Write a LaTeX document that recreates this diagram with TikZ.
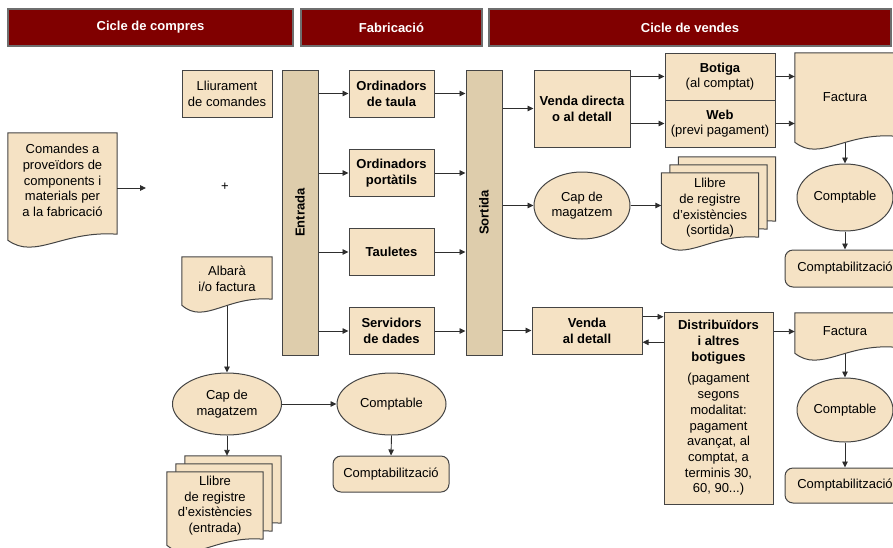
\documentclass[tikz,border=0pt]{standalone}
\usepackage{fontspec}
\setmainfont{Liberation Sans}
\usetikzlibrary{arrows.meta,shapes.geometric,calc}
\definecolor{hdred}{HTML}{800000}
\definecolor{hdbord}{HTML}{6E6E6E}
\definecolor{beige}{HTML}{F5E2C4}
\definecolor{barc}{HTML}{DECDAC}
\definecolor{bordc}{HTML}{444444}
\definecolor{linec}{HTML}{2E2E2E}
\pgfdeclarelayer{docs}
\pgfsetlayers{docs,main}
\newcommand\myfs{\fontsize{13}{15.7}\selectfont}
\newcommand\docpath[2]{%
  \begin{pgfonlayer}{docs}
  \path[docline] (#1.north west) -- (#1.north east) -- ($(#1.south east)+(0,#2-6)$)
    .. controls ($(#1.south west)!0.5!(#1.south east)+(0,#2-10)$) and ($(#1.south west)!0.25!(#1.south east)+(0,#2+20)$)
    .. ($(#1.south west)+(0,#2)$) -- cycle;
  \end{pgfonlayer}}
\tikzset{
  box/.style={draw=bordc, fill=beige, line width=1pt, align=center, inner sep=0pt, font=\myfs},
  bbox/.style={box, font=\myfs\bfseries},
  bar/.style={draw=bordc, fill=barc, line width=1pt, inner sep=0pt},
  hdr/.style={draw=hdbord, fill=hdred, line width=1.5pt, text=white, font=\myfs\bfseries, inner sep=0pt},
  ell/.style={ellipse, draw=bordc, fill=beige, line width=1pt, inner sep=0pt, align=center, font=\myfs},
  rbox/.style={box, rounded corners=8pt},
  docn/.style={inner sep=0pt, align=center, font=\myfs},
  docline/.style={draw=bordc, fill=beige, line width=1pt},
  arr/.style={draw=linec, line width=0.9pt, -{Triangle[length=6pt,width=5.5pt]}},
}
\begin{document}
\begin{tikzpicture}[x=1pt,y=-1pt]
\useasboundingbox (0,0) rectangle (893,547);
\clip (0,0) rectangle (893,547);
% headers
\node[hdr, minimum width=285pt, minimum height=37pt] (h1) at (150.5,27.5) {Cicle de compres};
\node[hdr, minimum width=181pt, minimum height=37pt] (h2) at (391.5,27.5) {Fabricació};
\node[hdr, minimum width=402pt, minimum height=37pt] (h3) at (690,27.5) {Cicle de vendes};
% purchase cycle
\node[box, minimum width=90pt, minimum height=47pt] (lliu) at (227,93.5) {Lliurament\\de comandes};
\node[docn, minimum width=109pt, minimum height=95pt] (comandes) at (62.5,180.5) {Comandes a\\proveïdors de\\components i\\materials per\\a la fabricació};
\docpath{comandes}{12}
\coordinate (arrend) at (146,188);
\draw[arr] (comandes.east |- arrend) -- (arrend);
\node[font=\myfs, inner sep=0pt] (plus) at (225,187) {+};
\node[docn, minimum width=90pt, minimum height=44pt] (albara) at (227,279) {Albarà\\i/o factura};
\docpath{albara}{4}
\node[ell, minimum width=109pt, minimum height=62pt] (capA) at (227,404) {Cap de\\magatzem};
\node[ell, minimum width=109pt, minimum height=62pt] (comptB) at (391.5,404) {Comptable};
\node[rbox, minimum width=116pt, minimum height=36pt] (comptBr) at (391,474) {Comptabilització};
\node[docn, minimum width=96pt, minimum height=67pt] (leb) at (233,489.5) {};
\docpath{leb}{6}
\node[docn, minimum width=96pt, minimum height=67pt] (lem) at (224,497.5) {};
\docpath{lem}{6}
\node[docn, minimum width=96pt, minimum height=67pt] (lef) at (215,505.5) {Llibre\\de registre\\d’existències\\(entrada)};
\docpath{lef}{6}
\draw[arr] ($(albara.south)+(0,5)$) -- (capA.north);
\draw[arr] (capA.east) -- (comptB.west);
\draw[arr] (comptB.south) -- (comptBr.north);
\draw[arr] (capA.south) -- (capA.south |- leb.north);
% manufacturing
\node[bar, minimum width=36pt, minimum height=285pt] (entrada) at (300,212.5) {};
\node[rotate=90, font=\myfs\bfseries, inner sep=0pt] (entradaT) at (entrada.center) {Entrada};
\node[bar, minimum width=36pt, minimum height=285pt] (sortida) at (484,212.5) {};
\node[rotate=90, font=\myfs\bfseries, inner sep=0pt] (sortidaT) at (sortida.center) {Sortida};
\node[bbox, minimum width=85pt, minimum height=47pt] (ordT) at (391.5,93.5) {Ordinadors\\de taula};
\node[bbox, minimum width=85pt, minimum height=47pt] (ordP) at (391.5,173) {Ordinadors\\portàtils};
\node[bbox, minimum width=85pt, minimum height=47pt] (taul) at (391.5,252) {Tauletes};
\node[bbox, minimum width=85pt, minimum height=47pt] (serv) at (391.5,331) {Servidors\\de dades};
\foreach \p in {ordT,ordP,taul,serv}{
  \draw[arr] (entrada.east |- \p.west) -- (\p.west);
  \draw[arr] (\p.east) -- (\p.east -| sortida.west);
}
% sales cycle
\node[bbox, minimum width=96pt, minimum height=77pt] (vdir) at (582,108.5) {Venda directa\\o al detall};
\node[box, minimum width=110pt, minimum height=47pt] (botiga) at (720,76.5) {\textbf{Botiga}\\(al comptat)};
\node[box, minimum width=110pt, minimum height=47pt] (web) at (720,123.5) {\textbf{Web}\\(previ pagament)};
\node[docn, minimum width=100pt, minimum height=89pt] (factA) at (845,97.5) {Factura};
\docpath{factA}{0}
\node[ell, minimum width=96pt, minimum height=67pt] (comptC) at (845,197.5) {Comptable};
\node[rbox, minimum width=120pt, minimum height=37pt] (comptF) at (845,268.5) {Comptabilització};
\node[ell, minimum width=96pt, minimum height=67pt] (capB) at (582,205.5) {Cap de\\magatzem};
\node[docn, minimum width=97pt, minimum height=70pt] (lsb) at (727,192) {};
\docpath{lsb}{0}
\node[docn, minimum width=97pt, minimum height=70pt] (lsm) at (718.5,200) {};
\docpath{lsm}{0}
\node[docn, minimum width=97pt, minimum height=70pt] (lsf) at (710,208) {Llibre\\de registre\\d’existències\\(sortida)};
\docpath{lsf}{0}
\node[bbox, minimum width=110pt, minimum height=47pt] (vdet) at (587,330.5) {Venda\\al detall};
\node[box, minimum width=109pt, minimum height=192pt] (dist) at (718.5,408) {\textbf{Distribuïdors}\\\textbf{i altres}\\\textbf{botigues}\\[6pt](pagament\\segons\\modalitat:\\pagament\\avançat, al\\comptat, a\\terminis 30,\\60, 90...)};
\node[docn, minimum width=100pt, minimum height=37pt] (factB) at (845,331.5) {Factura};
\docpath{factB}{3}
\node[ell, minimum width=96pt, minimum height=64pt] (comptD) at (845,410) {Comptable};
\node[rbox, minimum width=120pt, minimum height=35pt] (comptE) at (845,485.5) {Comptabilització};
\draw[arr] (sortida.east |- vdir.west) -- (vdir.west);
\draw[arr] (sortida.east |- capB.west) -- (capB.west);
\draw[arr] (sortida.east |- vdet.west) -- (vdet.west);
\draw[arr] (vdir.east |- botiga.west) -- (botiga.west);
\draw[arr] (vdir.east |- web.west) -- (web.west);
\draw[arr] (botiga.east) -- (botiga.east -| factA.west);
\draw[arr] (web.east) -- (web.east -| factA.west);
\draw[arr] ($(factA.south)+(0,1)$) -- (comptC.north);
\draw[arr] (comptC.south) -- (comptF.north);
\draw[arr] (capB.east) -- (capB.east -| lsf.west);
\coordinate (vd1) at ($(vdet.north east)!0.213!(vdet.south east)$);
\coordinate (vd2) at ($(vdet.north east)!0.745!(vdet.south east)$);
\draw[arr] (vd1) -- (vd1 -| dist.west);
\draw[arr] (vd2 -| dist.west) -- (vd2);
\draw[arr] (dist.east |- factB.west) -- (factB.west);
\draw[arr] ($(factB.south)+(0,4)$) -- (comptD.north);
\draw[arr] (comptD.south) -- (comptE.north);
\end{tikzpicture}
\end{document}
